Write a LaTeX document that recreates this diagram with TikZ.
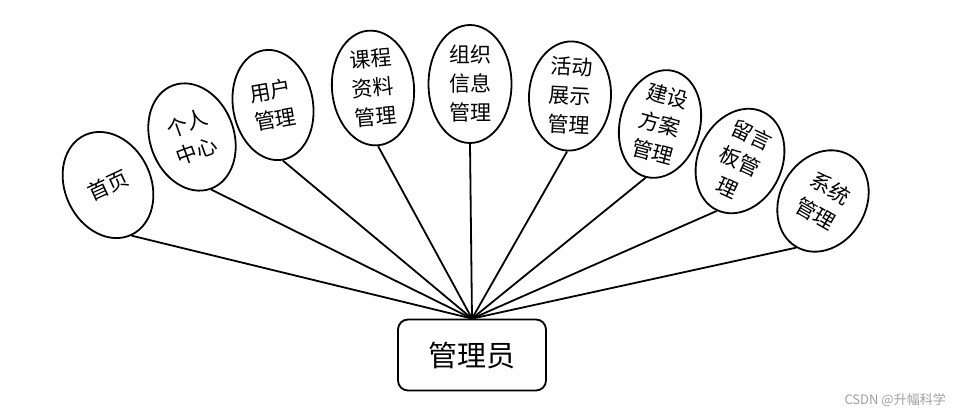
\documentclass[tikz,border=0pt]{standalone}
\usepackage{fontspec}
\setmainfont{Noto Sans CJK SC}
\usetikzlibrary{shapes.geometric}

\begin{document}
\begin{tikzpicture}[x=1pt,y=-1pt,line width=1.8pt,
  bub/.style={draw,ellipse,inner sep=0pt,align=center,
    font=\fontsize{21}{29}\selectfont}]
\useasboundingbox (0,0) rectangle (966,418);
\node[bub,minimum width=86,minimum height=110,rotate=25] (home) at (108,185) {首页};
\node[bub,minimum width=84,minimum height=110,rotate=20] (self) at (192,137) {个人\\中心};
\node[bub,minimum width=80,minimum height=111,rotate=10] (user) at (273,105) {用户\\管理};
\node[bub,minimum width=82,minimum height=115,rotate=5] (course) at (373,88) {课程\\资料\\管理};
\node[bub,minimum width=83,minimum height=118] (org) at (470,84) {组织\\信息\\管理};
\node[bub,minimum width=82,minimum height=108,rotate=-3] (show) at (570,96) {活动\\展示\\管理};
\node[bub,minimum width=80,minimum height=106,rotate=-15] (plan) at (660,124) {建设\\方案\\管理};
\node[bub,minimum width=84,minimum height=108,rotate=-25] (msg) at (740,161) {留言\\板管\\理};
\node[bub,minimum width=86,minimum height=106,rotate=-30] (sys) at (823,201) {系统\\管理};
\node[draw,rounded corners=10pt,minimum width=148,minimum height=71,
  font=\fontsize{29}{34}\selectfont] (admin) at (472,355) {管理员};
\foreach \n in {home,self,user,course,org,show,plan,msg,sys}
  \draw (\n.south) -- (admin.north);
\node[anchor=east,text=gray!75,font=\fontsize{13}{15}\selectfont] (mark) at (950,400) {CSDN @升幅科学};
\end{tikzpicture}
\end{document}
